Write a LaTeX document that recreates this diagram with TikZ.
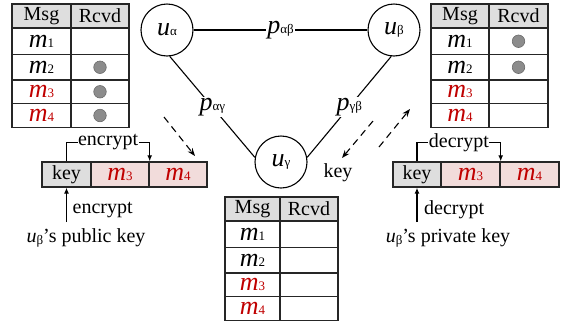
\documentclass[tikz,border=0pt]{standalone}
\usepackage{fontspec}
\setmainfont{Liberation Serif}
\usetikzlibrary{arrows.meta}
\definecolor{hdr}{HTML}{DEDEDE}
\definecolor{pinkc}{HTML}{F2DCDB}
\definecolor{redt}{HTML}{C00000}
\definecolor{dotc}{HTML}{8C8C8C}
\definecolor{dotb}{HTML}{6A6A6A}
\newcommand\txt{\fontsize{20}{23}\selectfont}
\newcommand\bigit[1]{{\fontsize{26}{28}\selectfont\itshape #1}}
\newcommand\sbs[1]{{\fontsize{13}{13}\selectfont #1}}
\newcommand\tm[2]{\textcolor{#1}{\bigit{m}\sbs{#2}}}
\newcommand\barm[1]{\textcolor{redt}{\bigit{m}\sbs{#1}}}
\newcommand\mytable[5]{%
 \pgfmathsetmacro\xa{(#2+#3)/2}\pgfmathsetmacro\xb{(#3+#4)/2}%
 \pgfmathsetmacro\wa{#3-#2}\pgfmathsetmacro\wb{#4-#3}%
 \node[hcell,minimum width=\wa,minimum height=24] (#1-ha) at (\xa,#5+12) {Msg};
 \node[hcell,minimum width=\wb,minimum height=24] (#1-hb) at (\xb,#5+12) {Rcvd};
 \node[cell,minimum width=\wa,minimum height=26.5] (#1-1a) at (\xa,#5+37.25) {\tm{black}{1}};
 \node[cell,minimum width=\wb,minimum height=26.5] (#1-1b) at (\xb,#5+37.25) {};
 \node[cell,minimum width=\wa,minimum height=25.5] (#1-2a) at (\xa,#5+63.25) {\tm{black}{2}};
 \node[cell,minimum width=\wb,minimum height=25.5] (#1-2b) at (\xb,#5+63.25) {};
 \node[cell,minimum width=\wa,minimum height=23.5] (#1-3a) at (\xa,#5+87.75) {\tm{redt}{3}};
 \node[cell,minimum width=\wb,minimum height=23.5] (#1-3b) at (\xb,#5+87.75) {};
 \node[cell,minimum width=\wa,minimum height=24] (#1-4a) at (\xa,#5+111.5) {\tm{redt}{4}};
 \node[cell,minimum width=\wb,minimum height=24] (#1-4b) at (\xb,#5+111.5) {};
}
\begin{document}
\begin{tikzpicture}[x=1pt,y=-1pt,
  font=\txt,
  cell/.style={draw=black!85,line width=1.4pt,inner sep=0pt,fill=white},
  hcell/.style={cell,fill=hdr},
  dot/.style={circle,draw=dotb,fill=dotc,line width=0.6pt,minimum size=12.5,inner sep=0pt},
  circ/.style={circle,draw,line width=1.1pt,minimum size=52,inner sep=0pt},
  conn/.style={line width=1.1pt},
  lab/.style={fill=white,inner sep=1pt},
  dasharr/.style={line width=1.1pt,dash pattern=on 7pt off 5pt,-{Stealth[length=8pt,width=6pt]}},
  tip/.style={line width=1.1pt,-{Latex[length=6pt,width=5pt]}},
  keyc/.style={draw=black!85,line width=1.4pt,inner sep=0pt,minimum height=25,fill=hdr},
  mc/.style={keyc,fill=pinkc}]
\useasboundingbox (0,0) rectangle (562,330);
% tables
\mytable{L}{12}{71}{129}{4}
\mytable{R}{431}{489}{548}{4}
\mytable{M}{225}{280}{338}{197}
\node[dot] (L-d2) at (L-2b.center) {};
\node[dot] (L-d3) at (L-3b.center) {};
\node[dot] (L-d4) at (L-4b.center) {};
\node[dot] (R-d1) at (R-1b.center) {};
\node[dot] (R-d2) at (R-2b.center) {};
% users
\node[circ] (ua) at (167,30) {\bigit{u}\sbs{α}};
\node[circ] (ub) at (394,30) {\bigit{u}\sbs{β}};
\node[circ] (ug) at (281,162) {\bigit{u}\sbs{γ}};
\draw[conn] (ua) -- node[lab] (pab) {\bigit{p}\sbs{αβ}} (ub);
\draw[conn] (ua.-84) -- node[lab] (pag) {\bigit{p}\sbs{αγ}} (ug.170);
\draw[conn] (ub.-96) -- node[lab] (pgb) {\bigit{p}\sbs{γβ}} (ug.10);
% dashed arrows
\coordinate (d1s) at (164,117); \coordinate (d1e) at (195,156);
\coordinate (d2s) at (373,121); \coordinate (d2e) at (342,158);
\coordinate (d3s) at (379,147); \coordinate (d3e) at (410,109);
\draw[dasharr] (d1s) -- (d1e);
\draw[dasharr] (d2s) -- (d2e);
\draw[dasharr] (d3s) -- (d3e);
\node (keylab) at (338,173) {key};
% left bar
\node[keyc,minimum width=49] (Lkey) at (66.5,174.5) {key};
\node[mc,minimum width=58] (Lm3) at (120,174.5) {\barm{3}};
\node[mc,minimum width=58] (Lm4) at (178,174.5) {\barm{4}};
\draw[tip] (Lkey.north) -- ++(0,-19) -| node[pos=0.25,lab,inner sep=0.5pt] (Lenc1) {encrypt} (Lm3.north east);
\coordinate (Lst) at (66.5,222);
\draw[tip] (Lst) -- (Lkey.south);
\node[anchor=west,inner sep=0pt] (Lenc2) at (72.5,210) {encrypt};
\node (Lpub) at (86,238) {\textit{u}\raisebox{-2pt}{\sbs{β}}’s public key};
% right bar
\node[keyc,minimum width=48] (Rkey) at (417,174.5) {key};
\node[mc,minimum width=59] (Rm3) at (470.5,174.5) {\barm{3}};
\node[mc,minimum width=59] (Rm4) at (529.5,174.5) {\barm{4}};
\draw[tip] (Rkey.north) -- ++(0,-19) -| node[pos=0.25,lab,inner sep=0.5pt] (Rdec1) {decrypt} (Rm3.north east);
\coordinate (Rst) at (417,222);
\draw[tip] (Rst) -- (Rkey.south);
\node[anchor=west,inner sep=0pt] (Rdec2) at (424,210) {decrypt};
\node (Rpriv) at (448,238) {\textit{u}\raisebox{-2pt}{\sbs{β}}’s private key};
\end{tikzpicture}
\end{document}
